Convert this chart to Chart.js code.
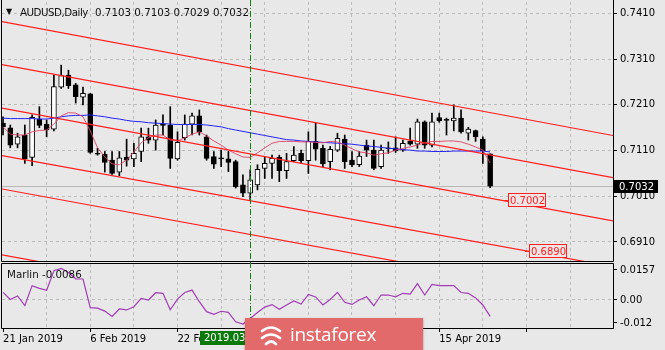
<!DOCTYPE html>
<html lang="en">
<head>
<meta charset="utf-8">
<title>AUDUSD, Daily</title>
<script src="https://cdn.jsdelivr.net/npm/chart.js@4.4.1/dist/chart.umd.min.js"></script>
<style>
  html, body { margin: 0; padding: 0; background: #e8e8e8; }
  #board { position: relative; width: 665px; height: 350px; overflow: hidden;
           font-family: "DejaVu Sans", sans-serif; color: #111; }
  canvas { position: absolute; left: 0; }
  #price-chart { top: 0; }
  #marlin-chart { top: 262px; }
  .caption { position: absolute; font-size: 10.3px; line-height: 12px; white-space: nowrap; }
  #symbol { letter-spacing: -0.5px; }
  #logo { position: absolute; left: 245px; top: 318px; width: 178px; height: 34px;
          background: #e26a6a; box-shadow: 0 1px 2px rgba(120, 30, 30, 0.5); }
  #logo svg { position: absolute; left: 14px; top: 5px; }
  #logo span { position: absolute; left: 45px; top: 0; line-height: 32px; font-size: 19px;
               font-family: "Open Sans", sans-serif; color: #fff; letter-spacing: -0.3px; }
</style>
</head>
<body>
<div id="board">
  <canvas id="price-chart" width="665" height="262"></canvas>
  <canvas id="marlin-chart" width="665" height="88"></canvas>
  <div class="caption" style="left:6px;top:6px;font-size:8px">▼</div>
  <div class="caption" id="symbol" style="left:20px;top:6px">AUDUSD,Daily</div>
  <div class="caption" id="ohlc" style="left:95px;top:6px"></div>
  <div class="caption" id="marlin-caption" style="left:7px;top:268px"></div>
  <div id="logo">
    <svg width="24" height="24" viewBox="0 0 24 24">
      <path d="M3 8 Q12 1 21 8 M3 15 Q12 8 21 15 M7 21 Q12 16 17 21" stroke="#fff"
            stroke-width="2.6" fill="none" stroke-linecap="round"/>
    </svg>
    <span>instaforex</span>
  </div>
</div>
<script>
// trading days shown on the chart
const dates = [
  "2019.01.21", "2019.01.22", "2019.01.23", "2019.01.24", "2019.01.25", "2019.01.28", "2019.01.29", "2019.01.30", "2019.01.31",
  "2019.02.01", "2019.02.04", "2019.02.05", "2019.02.06", "2019.02.07", "2019.02.08", "2019.02.11", "2019.02.12", "2019.02.13",
  "2019.02.14", "2019.02.15", "2019.02.18", "2019.02.19", "2019.02.20", "2019.02.21", "2019.02.22", "2019.02.25", "2019.02.26",
  "2019.02.27", "2019.02.28", "2019.03.01", "2019.03.04", "2019.03.05", "2019.03.06", "2019.03.07", "2019.03.08", "2019.03.11",
  "2019.03.12", "2019.03.13", "2019.03.14", "2019.03.15", "2019.03.18", "2019.03.19", "2019.03.20", "2019.03.21", "2019.03.22",
  "2019.03.25", "2019.03.26", "2019.03.27", "2019.03.28", "2019.03.29", "2019.04.01", "2019.04.02", "2019.04.03", "2019.04.04",
  "2019.04.05", "2019.04.08", "2019.04.09", "2019.04.10", "2019.04.11", "2019.04.12", "2019.04.15", "2019.04.16", "2019.04.17",
  "2019.04.18", "2019.04.19", "2019.04.22", "2019.04.23", "2019.04.24",
];

const open = [
  0.7170, 0.7160, 0.7124, 0.7144, 0.7095, 0.7179, 0.7168, 0.7157, 0.7249, 0.7275,
  0.7254, 0.7227, 0.7234, 0.7103, 0.7102, 0.7089, 0.7063, 0.7096, 0.7092, 0.7108,
  0.7140, 0.7133, 0.7168, 0.7165, 0.7092, 0.7138, 0.7168, 0.7186, 0.7140, 0.7097,
  0.7094, 0.7092, 0.7086, 0.7035, 0.7017, 0.7035, 0.7071, 0.7082, 0.7095, 0.7066,
  0.7088, 0.7104, 0.7088, 0.7130, 0.7115, 0.7086, 0.7111, 0.7135, 0.7089, 0.7079,
  0.7122, 0.7111, 0.7075, 0.7116, 0.7116, 0.7111, 0.7130, 0.7124, 0.7173, 0.7122,
  0.7182, 0.7177, 0.7175, 0.7181, 0.7148, 0.7154, 0.7135, 0.7103,
];
const high = [
  0.7184, 0.7166, 0.7148, 0.7166, 0.7188, 0.7206, 0.7177, 0.7275, 0.7297, 0.7286,
  0.7257, 0.7249, 0.7235, 0.7115, 0.7108, 0.7108, 0.7108, 0.7135, 0.7126, 0.7159,
  0.7159, 0.7177, 0.7188, 0.7206, 0.7151, 0.7188, 0.7192, 0.7199, 0.7144, 0.7108,
  0.7111, 0.7108, 0.7089, 0.7057, 0.7068, 0.7079, 0.7097, 0.7100, 0.7100, 0.7104,
  0.7119, 0.7111, 0.7151, 0.7170, 0.7122, 0.7119, 0.7148, 0.7144, 0.7108, 0.7108,
  0.7133, 0.7133, 0.7122, 0.7129, 0.7140, 0.7133, 0.7159, 0.7179, 0.7175, 0.7192,
  0.7192, 0.7181, 0.7210, 0.7199, 0.7161, 0.7155, 0.7140, 0.7103,
];
const low = [
  0.7144, 0.7116, 0.7116, 0.7082, 0.7077, 0.7160, 0.7140, 0.7153, 0.7246, 0.7246,
  0.7214, 0.7210, 0.7104, 0.7100, 0.7063, 0.7058, 0.7055, 0.7076, 0.7075, 0.7086,
  0.7126, 0.7111, 0.7144, 0.7071, 0.7089, 0.7133, 0.7144, 0.7144, 0.7089, 0.7071,
  0.7075, 0.7064, 0.7028, 0.7009, 0.7002, 0.7024, 0.7049, 0.7049, 0.7042, 0.7049,
  0.7086, 0.7082, 0.7060, 0.7089, 0.7075, 0.7068, 0.7108, 0.7071, 0.7075, 0.7075,
  0.7097, 0.7068, 0.7071, 0.7104, 0.7106, 0.7108, 0.7122, 0.7115, 0.7115, 0.7118,
  0.7172, 0.7144, 0.7153, 0.7148, 0.7133, 0.7130, 0.7082, 0.7029,
];
const close = [
  0.7162, 0.7122, 0.7140, 0.7092, 0.7183, 0.7165, 0.7155, 0.7250, 0.7274, 0.7252,
  0.7228, 0.7235, 0.7106, 0.7102, 0.7084, 0.7060, 0.7094, 0.7089, 0.7104, 0.7140,
  0.7133, 0.7166, 0.7165, 0.7093, 0.7128, 0.7168, 0.7186, 0.7151, 0.7093, 0.7080,
  0.7092, 0.7084, 0.7031, 0.7017, 0.7046, 0.7069, 0.7082, 0.7093, 0.7066, 0.7086,
  0.7100, 0.7088, 0.7130, 0.7113, 0.7081, 0.7113, 0.7137, 0.7086, 0.7079, 0.7098,
  0.7111, 0.7071, 0.7111, 0.7114, 0.7109, 0.7126, 0.7124, 0.7173, 0.7122, 0.7173,
  0.7175, 0.7176, 0.7181, 0.7151, 0.7157, 0.7140, 0.7109, 0.7032,
];

// moving averages (fast = crimson, slow = blue)
const maFast = [
  0.7162, 0.7146, 0.7144, 0.7144, 0.7151, 0.7154, 0.7155, 0.7168, 0.7186, 0.7193,
  0.7192, 0.7184, 0.7153, 0.7116, 0.7096, 0.7081, 0.7079, 0.7089, 0.7107, 0.7127,
  0.7138, 0.7144, 0.7144, 0.7133, 0.7131, 0.7138, 0.7146, 0.7151, 0.7142, 0.7131,
  0.7122, 0.7111, 0.7103, 0.7096, 0.7095, 0.7105, 0.7116, 0.7126, 0.7130, 0.7130,
  0.7130, 0.7129, 0.7129, 0.7128, 0.7127, 0.7130, 0.7129, 0.7122, 0.7114, 0.7107,
  0.7105, 0.7100, 0.7103, 0.7105, 0.7111, 0.7115, 0.7118, 0.7122, 0.7127, 0.7130,
  0.7130, 0.7131, 0.7131, 0.7129, 0.7124, 0.7118, 0.7111, 0.7083,
];
const maSlow = [
  0.7181, 0.7180, 0.7180, 0.7180, 0.7180, 0.7179, 0.7179, 0.7181, 0.7184, 0.7186,
  0.7187, 0.7187, 0.7188, 0.7186, 0.7184, 0.7181, 0.7179, 0.7176, 0.7174, 0.7173,
  0.7171, 0.7170, 0.7169, 0.7168, 0.7167, 0.7167, 0.7167, 0.7167, 0.7166, 0.7164,
  0.7162, 0.7158, 0.7155, 0.7152, 0.7149, 0.7146, 0.7143, 0.7140, 0.7137, 0.7134,
  0.7133, 0.7131, 0.7130, 0.7129, 0.7128, 0.7127, 0.7126, 0.7125, 0.7124, 0.7122,
  0.7120, 0.7119, 0.7117, 0.7115, 0.7114, 0.7112, 0.7111, 0.7109, 0.7109, 0.7108,
  0.7108, 0.7108, 0.7109, 0.7109, 0.7109, 0.7109, 0.7109, 0.7107,
];

const marlin = [
  0.0040, 0.0003, 0.0021, -0.0029, 0.0075, 0.0061, 0.0051, 0.0153, 0.0165, 0.0144,
  0.0111, 0.0110, -0.0040, -0.0043, -0.0058, -0.0086, -0.0047, -0.0052, -0.0035, 0.0008,
  0.0000, 0.0038, 0.0035, -0.0051, 0.0005, 0.0039, 0.0052, -0.0009, -0.0061, -0.0075,
  -0.0059, -0.0065, -0.0114, -0.0126, -0.0097, -0.0065, -0.0037, -0.0024, -0.0049, -0.0026,
  -0.0005, -0.0021, 0.0029, 0.0016, -0.0026, 0.0003, 0.0040, -0.0012, -0.0023, 0.0000,
  0.0017, -0.0030, 0.0026, 0.0026, 0.0017, 0.0035, 0.0031, 0.0086, 0.0026, 0.0082,
  0.0075, 0.0075, 0.0075, 0.0039, 0.0035, 0.0011, -0.0026, -0.0086,
];

// channel lines: price at the left and right edge of the plot
const channels = [
  [0.7392, 0.7143],
  [0.7298, 0.7051],
  [0.7203, 0.6956],
  [0.7099, 0.6856],
  [0.7026, 0.6781],
  [0.6882, 0.6634],
];
const levelPrices = [0.7002, 0.6890];

const priceTicks = [0.7410, 0.7310, 0.7210, 0.7110, 0.7010, 0.6910];
const marlinTicks = [0.0157, 0, -0.012];
const marlinTickLabels = ["0.0157", "0.00", "-0.012"];

// ---- layout constants ----
const X_MIN = -0.14;
const X_MAX = 83.9;
const PRICE_MIN = 0.68684;
const PRICE_MAX = 0.74351;
const MARLIN_MIN = -0.014654;
const MARLIN_MAX = 0.01884;
const CROSS_BAR = 34;
const LEVEL_AT = [69.4, 72.3];
const LAST = close.length - 1;
const GRID = "#bcbcbc";
const FONT = { family: '"DejaVu Sans", sans-serif', size: 10 };
const FONT_CSS = '10px "DejaVu Sans", sans-serif';
const MONTHS = ["Jan", "Feb", "Mar", "Apr", "May", "Jun", "Jul", "Aug", "Sep", "Oct", "Nov", "Dec"];

const gridBars = [];
for (let i = 6; i < X_MAX; i += 6) gridBars.push(i);
const axisBars = [0, ...gridBars];

const fmtDate = (s) => {
  const [y, m, d] = s.split(".");
  return `${Number(d)} ${MONTHS[Number(m) - 1]} ${y}`;
};

// keep the plot area exactly where the layout padding puts it
const noPadding = (s) => {
  s.paddingTop = 0;
  s.paddingBottom = 0;
  s.paddingLeft = 0;
  s.paddingRight = 0;
};

document.getElementById("ohlc").textContent = [open[LAST], high[LAST], low[LAST], close[LAST]]
  .map((v) => v.toFixed(4))
  .join(" ");
document.getElementById("marlin-caption").textContent = `Marlin ${marlin[LAST].toFixed(4)}`;

const drawCross = (chart, yTop, yBottom) => {
  const { ctx } = chart;
  const x = Math.round(chart.scales.x.getPixelForValue(CROSS_BAR)) + 0.5;
  ctx.save();
  ctx.strokeStyle = "#0a840a";
  ctx.lineWidth = 1;
  ctx.setLineDash([6, 2, 1, 2]);
  ctx.beginPath();
  ctx.moveTo(x, yTop);
  ctx.lineTo(x, yBottom);
  ctx.stroke();
  ctx.restore();
};

// frame around the plot; the price window has no top edge in view
const drawFrame = (chart, withTop) => {
  const { ctx, chartArea: a } = chart;
  const l = a.left - 0.5, r = a.right + 0.5, t = a.top - 0.5, b = a.bottom + 0.5;
  ctx.save();
  ctx.strokeStyle = "#000";
  ctx.lineWidth = 1;
  ctx.beginPath();
  ctx.moveTo(l, withTop ? t : 0);
  ctx.lineTo(l, b);
  ctx.lineTo(r, b);
  ctx.lineTo(r, withTop ? t : 0);
  if (withTop) ctx.closePath();
  ctx.stroke();
  ctx.restore();
};

const priceDecor = {
  id: "priceDecor",
  beforeDatasetsDraw(chart) {
    // bid line
    const { ctx, chartArea: a, scales } = chart;
    const py = Math.round(scales.y.getPixelForValue(close[LAST])) + 0.5;
    ctx.save();
    ctx.strokeStyle = "#b8b8b8";
    ctx.lineWidth = 1;
    ctx.beginPath();
    ctx.moveTo(a.left, py);
    ctx.lineTo(a.right, py);
    ctx.stroke();
    ctx.restore();
  },
  afterDatasetsDraw(chart) {
    const { ctx, chartArea: a, scales } = chart;
    drawCross(chart, 0, a.bottom);

    // price tags on the channel lines
    ctx.save();
    ctx.beginPath();
    ctx.rect(a.left, a.top, a.right - a.left, a.bottom - a.top);
    ctx.clip();
    ctx.font = FONT_CSS;
    ctx.textBaseline = "middle";
    levelPrices.forEach((price, i) => {
      const x = Math.round(scales.x.getPixelForValue(LEVEL_AT[i]));
      const y = Math.round(scales.y.getPixelForValue(price));
      ctx.fillStyle = "#eee6e6";
      ctx.fillRect(x, y - 7, 38, 14);
      ctx.strokeStyle = "#ff2020";
      ctx.lineWidth = 1;
      ctx.strokeRect(x + 0.5, y - 6.5, 37, 13);
      ctx.beginPath();
      ctx.moveTo(x - 4, y + 0.5);
      ctx.lineTo(x, y + 0.5);
      ctx.stroke();
      ctx.fillStyle = "#ff2020";
      ctx.fillText(price.toFixed(4), x + 2, y + 1);
    });
    ctx.restore();
  },
  afterDraw(chart) {
    const { ctx, chartArea: a, scales } = chart;
    drawFrame(chart, false);
    // current price tag on the axis
    const py = Math.round(scales.y.getPixelForValue(close[LAST]));
    ctx.save();
    ctx.fillStyle = "#000";
    ctx.fillRect(a.right + 1, py - 6, 44, 13);
    ctx.fillStyle = "#fff";
    ctx.font = FONT_CSS;
    ctx.textBaseline = "middle";
    ctx.fillText(close[LAST].toFixed(4), a.right + 6, py + 1);
    ctx.restore();
  },
};

const marlinDecor = {
  id: "marlinDecor",
  afterDraw(chart) {
    const { ctx, chartArea: a, scales } = chart;
    drawFrame(chart, true);
    drawCross(chart, 0, a.bottom + 3);
    const x = Math.round(scales.x.getPixelForValue(CROSS_BAR));
    ctx.save();
    ctx.fillStyle = "#0b7a0b";
    ctx.fillRect(x - 50, a.bottom + 3, 62, 14);
    ctx.fillStyle = "#fff";
    ctx.font = FONT_CSS;
    ctx.textBaseline = "middle";
    ctx.fillText(dates[CROSS_BAR], x - 46, a.bottom + 10.5);
    ctx.restore();
  },
};

const bodies = open.map((o, i) => ({ x: i, y: [o, close[i]] }));
const wicks = low.map((l, i) => ({ x: i, y: [l, high[i]] }));

new Chart(document.getElementById("price-chart"), {
  type: "bar",
  data: {
    datasets: [
      ...channels.map(([a, b]) => ({
        type: "line",
        data: [{ x: X_MIN, y: a }, { x: X_MAX, y: b }],
        borderColor: "#ff1f1f",
        borderWidth: 1.2,
        pointRadius: 0,
        order: 0,
      })),
      {
        type: "line",
        data: maFast.map((v, i) => ({ x: i, y: v })),
        borderColor: "rgba(222, 66, 100, 0.9)",
        borderWidth: 1,
        pointRadius: 0,
        order: 1,
      },
      {
        type: "line",
        data: maSlow.map((v, i) => ({ x: i, y: v })),
        borderColor: "#2323f5",
        borderWidth: 1,
        pointRadius: 0,
        order: 1,
      },
      {
        data: bodies,
        backgroundColor: bodies.map((b) => (b.y[1] >= b.y[0] ? "#fff" : "#000")),
        borderColor: "#000",
        borderWidth: 1,
        borderSkipped: false,
        barThickness: 5,
        minBarLength: 1,
        grouped: false,
        order: 2,
      },
      {
        data: wicks,
        backgroundColor: "#000",
        borderWidth: 0,
        barThickness: 1,
        grouped: false,
        order: 3,
      },
    ],
  },
  options: {
    responsive: false,
    animation: false,
    events: [],
    layout: { padding: { left: 2, top: 2, right: 0, bottom: 1 } },
    plugins: { legend: { display: false }, tooltip: { enabled: false } },
    scales: {
      x: {
        type: "linear",
        min: X_MIN,
        max: X_MAX,
        offset: false,
        afterBuildTicks: (s) => { s.ticks = gridBars.map((v) => ({ value: v })); },
        afterFit: (s) => { s.height = 0; noPadding(s); },
        ticks: { display: false },
        grid: { color: GRID, drawTicks: false, offset: false },
        border: { display: false, dash: [3, 3] },
      },
      y: {
        position: "right",
        min: PRICE_MIN,
        max: PRICE_MAX,
        afterBuildTicks: (s) => { s.ticks = priceTicks.map((v) => ({ value: v })); },
        afterFit: (s) => { s.width = 52; noPadding(s); },
        ticks: { color: "#000", font: FONT, padding: 3, callback: (v) => v.toFixed(4) },
        grid: { color: GRID, tickColor: "#000", tickLength: 4, tickBorderDash: [] },
        border: { display: false, dash: [3, 3] },
      },
    },
  },
  plugins: [priceDecor],
});

new Chart(document.getElementById("marlin-chart"), {
  type: "line",
  data: {
    datasets: [
      {
        data: marlin.map((v, i) => ({ x: i, y: v })),
        borderColor: "#a23db6",
        borderWidth: 1.2,
        pointRadius: 0,
      },
    ],
  },
  options: {
    responsive: false,
    animation: false,
    events: [],
    layout: { padding: { left: 2, top: 2, right: 0, bottom: 0 } },
    plugins: { legend: { display: false }, tooltip: { enabled: false } },
    scales: {
      x: {
        type: "linear",
        min: X_MIN,
        max: X_MAX,
        offset: false,
        afterBuildTicks: (s) => { s.ticks = axisBars.map((v) => ({ value: v })); },
        afterFit: (s) => { s.height = 22; noPadding(s); },
        ticks: {
          color: "#000",
          font: FONT,
          padding: 1,
          align: "start",
          autoSkip: false,
          maxRotation: 0,
          minRotation: 0,
          callback: (v) => (v % 12 === 0 && dates[v] ? fmtDate(dates[v]) : ""),
        },
        grid: {
          color: (c) => (c.tick && c.tick.value === 0 ? "rgba(0,0,0,0)" : GRID),
          tickColor: (c) => (c.tick && c.tick.value % 12 === 0 ? "#000" : "rgba(0,0,0,0)"),
          tickLength: 4,
          tickBorderDash: [],
          offset: false,
        },
        border: { display: false, dash: [3, 3] },
      },
      y: {
        position: "right",
        min: MARLIN_MIN,
        max: MARLIN_MAX,
        afterBuildTicks: (s) => { s.ticks = marlinTicks.map((v) => ({ value: v })); },
        afterFit: (s) => { s.width = 52; noPadding(s); },
        ticks: {
          color: "#000",
          font: FONT,
          padding: 3,
          callback: (v) => marlinTickLabels[marlinTicks.indexOf(v)],
        },
        grid: {
          color: (c) => (c.tick && c.tick.value === 0 ? GRID : "rgba(0,0,0,0)"),
          tickColor: "#000",
          tickLength: 4,
          tickBorderDash: [],
        },
        border: { display: false, dash: [3, 3] },
      },
    },
  },
  plugins: [marlinDecor],
});
</script>
</body>
</html>
